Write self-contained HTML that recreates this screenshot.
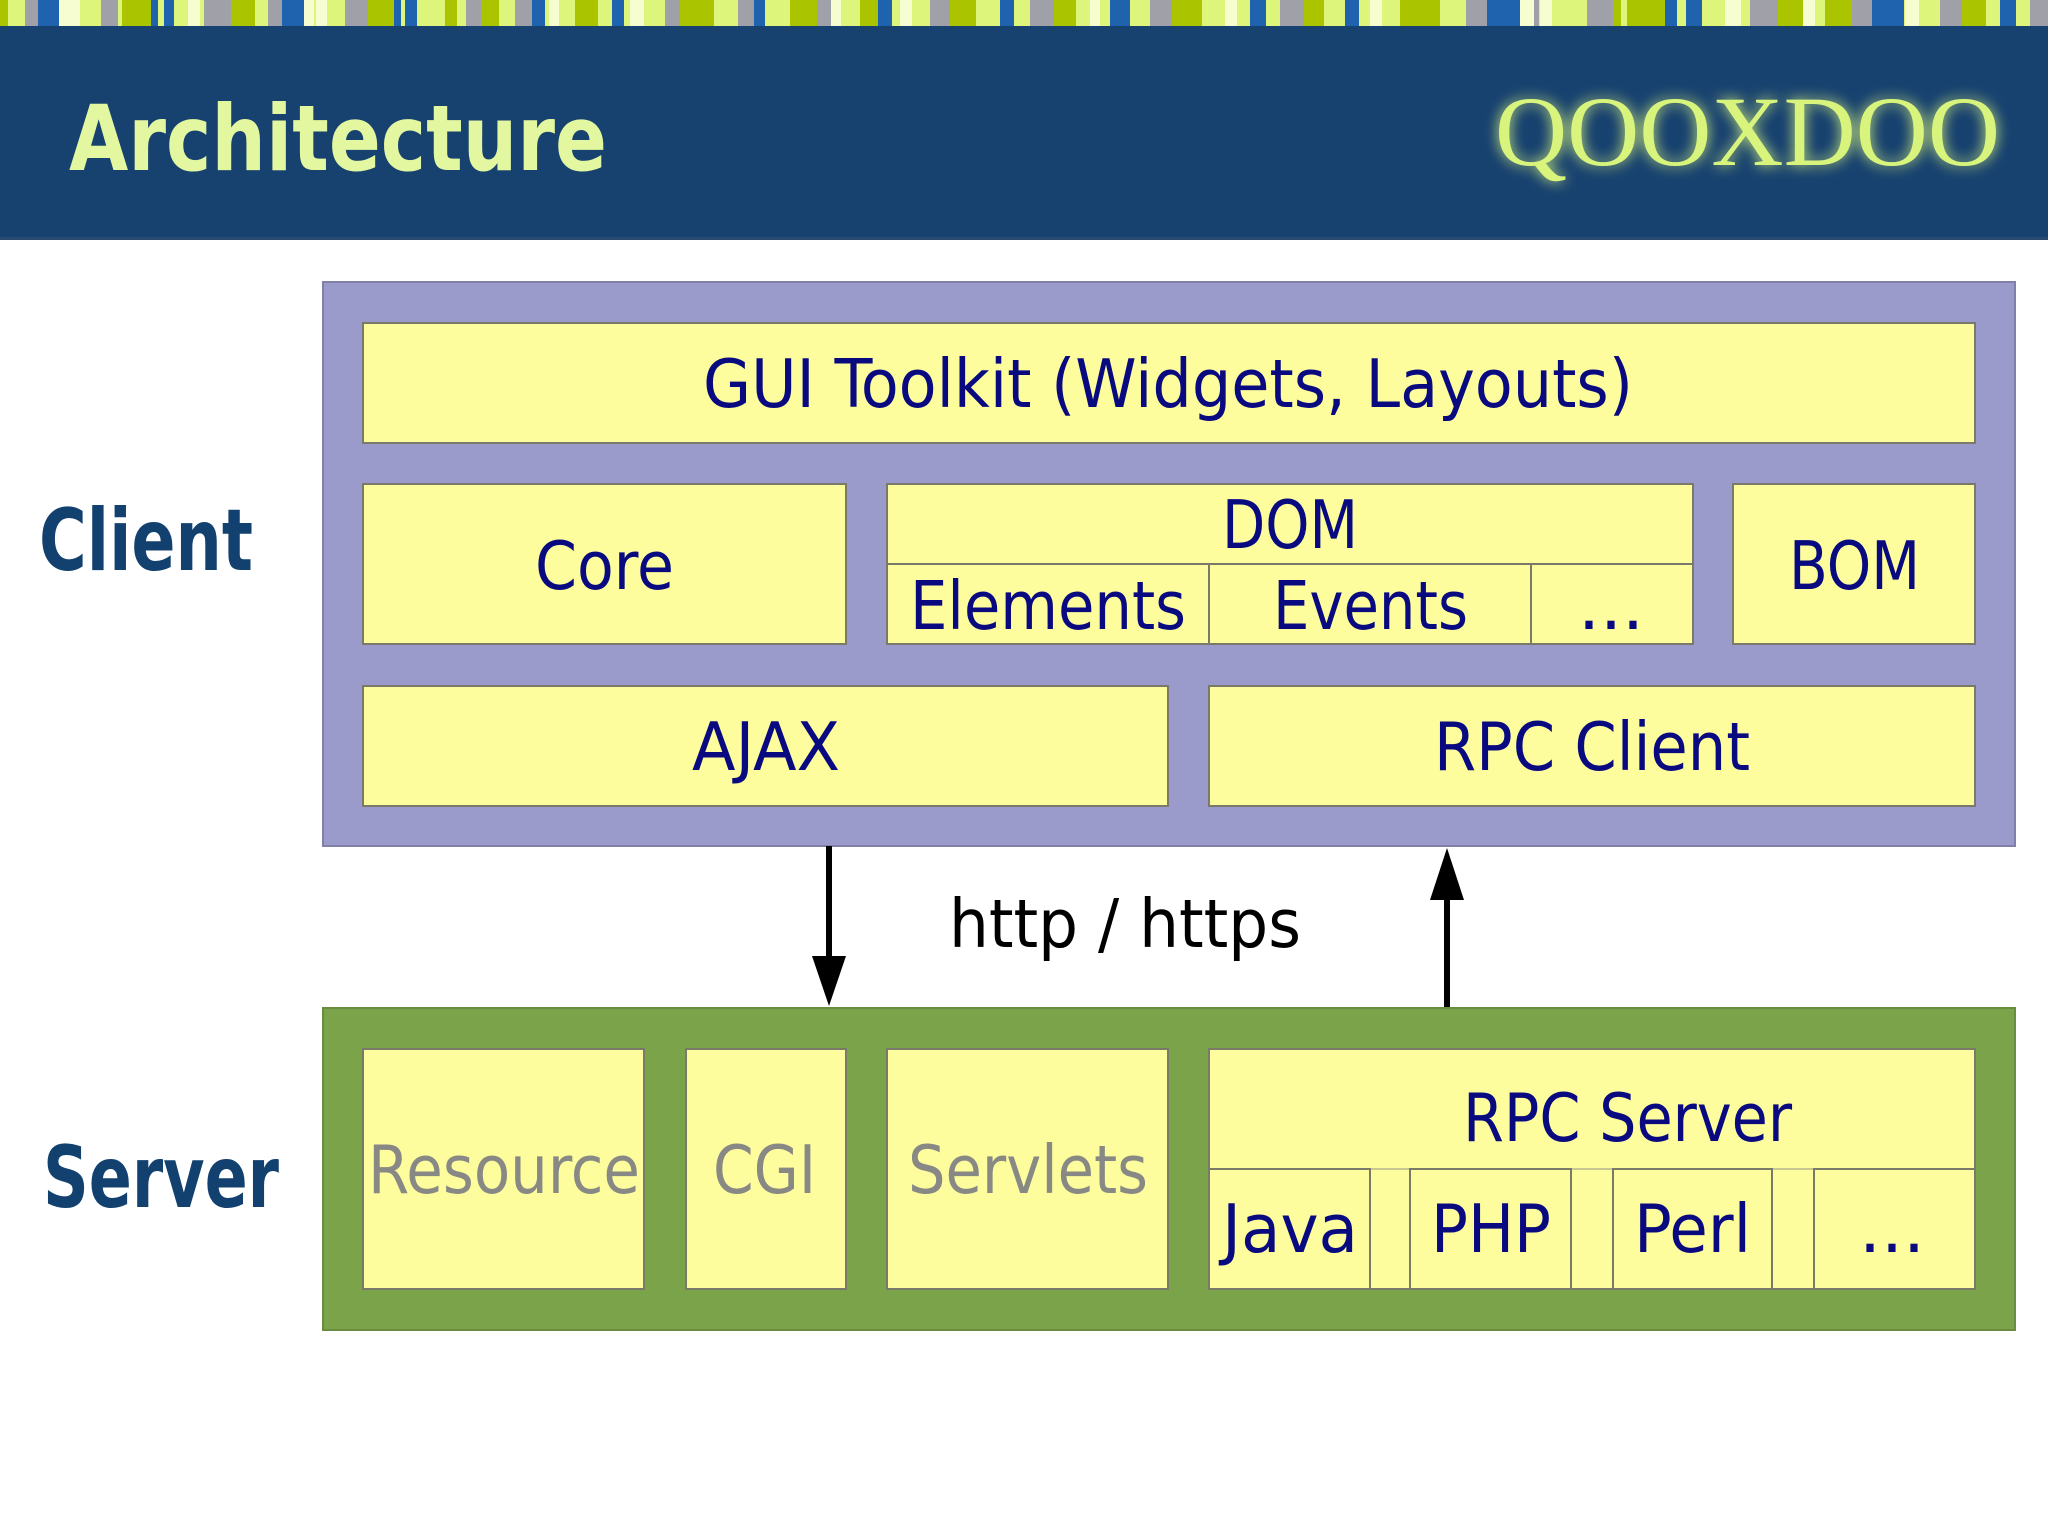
<!DOCTYPE html>
<html><head><meta charset="utf-8"><style>
html,body{margin:0;padding:0;width:2048px;height:1536px;overflow:hidden;background:#fff}
svg{display:block}
</style></head><body>
<svg width="2048" height="1536" viewBox="0 0 2048 1536" xmlns="http://www.w3.org/2000/svg" font-family="'DejaVu Sans Condensed','DejaVu Sans',sans-serif">
<defs>
<filter id="glow" x="-20%" y="-40%" width="140%" height="180%"><feGaussianBlur stdDeviation="7" result="b"/><feMerge><feMergeNode in="b"/><feMergeNode in="SourceGraphic"/></feMerge></filter>
</defs>
<g>
<rect x="0" y="0" width="2048" height="26" fill="#ddf57a"/>
<rect x="0" y="0" width="8" height="26" fill="#aac400"/>
<rect x="25" y="0" width="13" height="26" fill="#a0a0a8"/>
<rect x="38" y="0" width="21" height="26" fill="#1f62ae"/>
<rect x="59" y="0" width="12" height="26" fill="#f6fdd0"/>
<rect x="71" y="0" width="9" height="26" fill="#f6fdd0"/>
<rect x="101" y="0" width="17" height="26" fill="#a0a0a8"/>
<rect x="122" y="0" width="29" height="26" fill="#aac400"/>
<rect x="151" y="0" width="7" height="26" fill="#1f62ae"/>
<rect x="164" y="0" width="10" height="26" fill="#1f62ae"/>
<rect x="188" y="0" width="12" height="26" fill="#f6fdd0"/>
<rect x="204" y="0" width="27" height="26" fill="#a0a0a8"/>
<rect x="231" y="0" width="24" height="26" fill="#aac400"/>
<rect x="268" y="0" width="14" height="26" fill="#a0a0a8"/>
<rect x="282" y="0" width="22" height="26" fill="#1f62ae"/>
<rect x="304" y="0" width="10" height="26" fill="#f6fdd0"/>
<rect x="316" y="0" width="11" height="26" fill="#f6fdd0"/>
<rect x="345" y="0" width="23" height="26" fill="#a0a0a8"/>
<rect x="368" y="0" width="26" height="26" fill="#aac400"/>
<rect x="394" y="0" width="7" height="26" fill="#1f62ae"/>
<rect x="405" y="0" width="12" height="26" fill="#1f62ae"/>
<rect x="445" y="0" width="12" height="26" fill="#aac400"/>
<rect x="466" y="0" width="15" height="26" fill="#a0a0a8"/>
<rect x="481" y="0" width="18" height="26" fill="#aac400"/>
<rect x="515" y="0" width="17" height="26" fill="#a0a0a8"/>
<rect x="532" y="0" width="13" height="26" fill="#1f62ae"/>
<rect x="549" y="0" width="10" height="26" fill="#f6fdd0"/>
<rect x="575" y="0" width="23" height="26" fill="#aac400"/>
<rect x="612" y="0" width="12" height="26" fill="#1f62ae"/>
<rect x="630" y="0" width="14" height="26" fill="#f6fdd0"/>
<rect x="665" y="0" width="15" height="26" fill="#a0a0a8"/>
<rect x="680" y="0" width="34" height="26" fill="#aac400"/>
<rect x="738" y="0" width="16" height="26" fill="#a0a0a8"/>
<rect x="754" y="0" width="11" height="26" fill="#1f62ae"/>
<rect x="790" y="0" width="27" height="26" fill="#aac400"/>
<rect x="817" y="0" width="14" height="26" fill="#a0a0a8"/>
<rect x="831" y="0" width="10" height="26" fill="#f6fdd0"/>
<rect x="860" y="0" width="18" height="26" fill="#aac400"/>
<rect x="878" y="0" width="14" height="26" fill="#1f62ae"/>
<rect x="900" y="0" width="12" height="26" fill="#f6fdd0"/>
<rect x="930" y="0" width="20" height="26" fill="#a0a0a8"/>
<rect x="950" y="0" width="26" height="26" fill="#aac400"/>
<rect x="1000" y="0" width="14" height="26" fill="#1f62ae"/>
<rect x="1030" y="0" width="24" height="26" fill="#a0a0a8"/>
<rect x="1054" y="0" width="22" height="26" fill="#aac400"/>
<rect x="1090" y="0" width="10" height="26" fill="#f6fdd0"/>
<rect x="1110" y="0" width="20" height="26" fill="#1f62ae"/>
<rect x="1150" y="0" width="22" height="26" fill="#a0a0a8"/>
<rect x="1172" y="0" width="30" height="26" fill="#aac400"/>
<rect x="1225" y="0" width="12" height="26" fill="#f6fdd0"/>
<rect x="1250" y="0" width="16" height="26" fill="#1f62ae"/>
<rect x="1280" y="0" width="24" height="26" fill="#a0a0a8"/>
<rect x="1304" y="0" width="20" height="26" fill="#aac400"/>
<rect x="1345" y="0" width="14" height="26" fill="#1f62ae"/>
<rect x="1370" y="0" width="12" height="26" fill="#f6fdd0"/>
<rect x="1400" y="0" width="18" height="26" fill="#aac400"/>
<rect x="1418" y="0" width="22" height="26" fill="#aac400"/>
<rect x="1466" y="0" width="21" height="26" fill="#a0a0a8"/>
<rect x="1487" y="0" width="33" height="26" fill="#1f62ae"/>
<rect x="1520" y="0" width="14" height="26" fill="#f6fdd0"/>
<rect x="1534" y="0" width="5" height="26" fill="#a0a0a8"/>
<rect x="1540" y="0" width="12" height="26" fill="#f6fdd0"/>
<rect x="1587" y="0" width="26" height="26" fill="#a0a0a8"/>
<rect x="1613" y="0" width="8" height="26" fill="#aac400"/>
<rect x="1627" y="0" width="38" height="26" fill="#aac400"/>
<rect x="1665" y="0" width="12" height="26" fill="#1f62ae"/>
<rect x="1686" y="0" width="16" height="26" fill="#1f62ae"/>
<rect x="1725" y="0" width="16" height="26" fill="#f6fdd0"/>
<rect x="1750" y="0" width="28" height="26" fill="#a0a0a8"/>
<rect x="1778" y="0" width="25" height="26" fill="#aac400"/>
<rect x="1803" y="0" width="12" height="26" fill="#f6fdd0"/>
<rect x="1825" y="0" width="27" height="26" fill="#aac400"/>
<rect x="1852" y="0" width="20" height="26" fill="#a0a0a8"/>
<rect x="1872" y="0" width="32" height="26" fill="#1f62ae"/>
<rect x="1905" y="0" width="14" height="26" fill="#f6fdd0"/>
<rect x="1940" y="0" width="22" height="26" fill="#a0a0a8"/>
<rect x="1962" y="0" width="24" height="26" fill="#aac400"/>
<rect x="2000" y="0" width="16" height="26" fill="#1f62ae"/>
<rect x="2030" y="0" width="18" height="26" fill="#a0a0a8"/>
</g>
<rect x="0" y="26" width="2048" height="212" fill="#17416f"/>
<rect x="0" y="237" width="2048" height="3" fill="#2b4a70"/>
<text x="69" y="170" font-size="91" font-weight="bold" fill="#e2f7a0" textLength="538" lengthAdjust="spacingAndGlyphs" font-family="'DejaVu Sans','DejaVu Sans Condensed',sans-serif">Architecture</text>
<text x="1495" y="165" font-size="100" fill="#d8f47c" font-family="'Liberation Serif',serif" textLength="505" lengthAdjust="spacingAndGlyphs" filter="url(#glow)">QOOXDOO</text>

<rect x="323" y="282" width="1692" height="564" fill="#9b9bcb" stroke="#8080a8" stroke-width="2"/>
<g fill="#fdfd9d" stroke="#7a7a6a" stroke-width="2">
<rect x="363" y="323" width="1612" height="120"/>
<rect x="363" y="484" width="483" height="160"/>
<rect x="887" y="484" width="806" height="160"/>
<line x1="887" y1="564" x2="1693" y2="564"/>
<line x1="1209" y1="564" x2="1209" y2="644"/>
<line x1="1531" y1="564" x2="1531" y2="644"/>
<rect x="1733" y="484" width="242" height="160"/>
<rect x="363" y="686" width="805" height="120"/>
<rect x="1209" y="686" width="766" height="120"/>
</g>
<g fill="#0a0a80" font-size="67">
<text x="703" y="407" textLength="930" lengthAdjust="spacingAndGlyphs">GUI Toolkit (Widgets, Layouts)</text>
<text x="535" y="589" textLength="139" lengthAdjust="spacingAndGlyphs">Core</text>
<text x="1222" y="548" textLength="136" lengthAdjust="spacingAndGlyphs">DOM</text>
<text x="910" y="629" textLength="276" lengthAdjust="spacingAndGlyphs">Elements</text>
<text x="1273" y="629" textLength="195" lengthAdjust="spacingAndGlyphs">Events</text>
<text x="1578" y="629" textLength="66" lengthAdjust="spacingAndGlyphs">...</text>
<text x="1789" y="589" textLength="131" lengthAdjust="spacingAndGlyphs">BOM</text>
<text x="692" y="770" textLength="148" lengthAdjust="spacingAndGlyphs">AJAX</text>
<text x="1434" y="770" textLength="316" lengthAdjust="spacingAndGlyphs">RPC Client</text>
</g>
<g fill="#13416f" font-weight="bold" font-size="86" font-family="'DejaVu Sans','DejaVu Sans Condensed',sans-serif">
<text x="39" y="570" textLength="214" lengthAdjust="spacingAndGlyphs">Client</text>
<text x="43" y="1207" textLength="236" lengthAdjust="spacingAndGlyphs">Server</text>
</g>

<line x1="829" y1="846" x2="829" y2="962" stroke="#000" stroke-width="6"/>
<polygon points="812,956 846,956 829,1006" fill="#000"/>
<line x1="1447" y1="890" x2="1447" y2="1008" stroke="#000" stroke-width="6"/>
<polygon points="1430,900 1464,900 1447,848" fill="#000"/>
<text x="949" y="947" font-size="67" fill="#000" textLength="352" lengthAdjust="spacingAndGlyphs">http / https</text>

<rect x="323" y="1008" width="1692" height="322" fill="#7ba34a" stroke="#6a8c3e" stroke-width="2"/>
<g fill="#fdfd9d" stroke="#7a7a6a" stroke-width="2">
<rect x="363" y="1049" width="281" height="240"/>
<rect x="686" y="1049" width="160" height="240"/>
<rect x="887" y="1049" width="281" height="240"/>
<rect x="1209" y="1049" width="766" height="240"/>
<line x1="1209" y1="1169" x2="1975" y2="1169" stroke="#c8c890"/>
<rect x="1209" y="1169" width="161" height="120"/>
<rect x="1410" y="1169" width="161" height="120"/>
<rect x="1613" y="1169" width="159" height="120"/>
<rect x="1814" y="1169" width="161" height="120"/>
</g>
<g fill="#888884" font-size="67">
<text x="368" y="1193" textLength="272" lengthAdjust="spacingAndGlyphs">Resource</text>
<text x="713" y="1193" textLength="103" lengthAdjust="spacingAndGlyphs">CGI</text>
<text x="908" y="1193" textLength="240" lengthAdjust="spacingAndGlyphs">Servlets</text>
</g>
<g fill="#0a0a80" font-size="67">
<text x="1463" y="1141" textLength="329" lengthAdjust="spacingAndGlyphs">RPC Server</text>
<text x="1222" y="1252" textLength="136" lengthAdjust="spacingAndGlyphs">Java</text>
<text x="1431" y="1252" textLength="120" lengthAdjust="spacingAndGlyphs">PHP</text>
<text x="1634" y="1252" textLength="117" lengthAdjust="spacingAndGlyphs">Perl</text>
<text x="1859" y="1252" textLength="66" lengthAdjust="spacingAndGlyphs">...</text>
</g>
</svg>
</body></html>
